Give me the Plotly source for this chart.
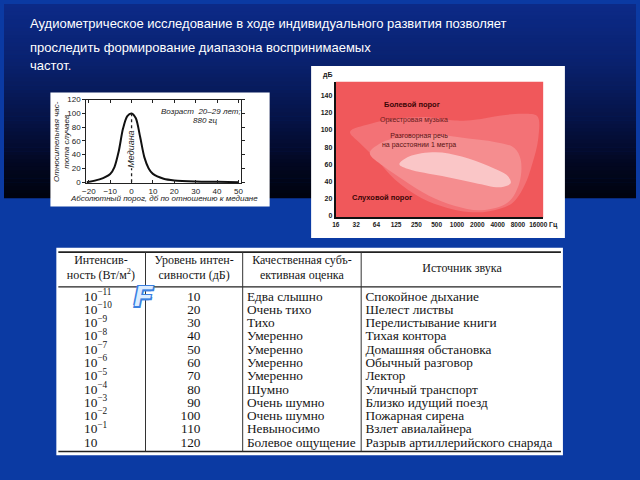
import plotly.graph_objects as go
import numpy as np

W, H = 640, 480

def fx(p):
    return p / W

def fy(p):
    return 1 - p / H

# ---------------- data ----------------
title_lines = [
    "Аудиометрическое исследование в ходе индивидуального развития позволяет",
    "проследить формирование диапазона воспринимаемых",
    "частот.",
]

# threshold distribution (left chart)
thr_x = [-21, -15, -10, -8, -6, -4, -2, 0, 2, 4, 6, 8, 10, 15, 20, 30, 40, 50]
thr_y = [0, 4, 12, 22, 45, 78, 96, 100, 93, 66, 36, 20, 12, 5, 2.5, 1, 0.5, 0]
thr_xticks = [-20, -10, 0, 10, 20, 30, 40, 50]
thr_xticktext = ["−20", "−10", "0", "10", "20", "30", "40", "50"]
thr_yticks = [0, 20, 40, 60, 80, 100, 120]

# hearing area (right chart)
freq_ticks = [16, 32, 64, 125, 250, 500, 1000, 2000, 4000, 8000, 16000]
db_ticks = [0, 20, 40, 60, 80, 100, 120, 140]
music_f = [26, 51, 125, 384, 940, 1840, 4500, 10000, 15500, 16000, 13000, 10000, 6500, 3000, 1500, 700, 300, 120, 60, 35]
music_db = [98, 107, 113, 115, 111, 112, 117, 119, 116, 90, 60, 35, 14, 5, 4, 9, 20, 42, 68, 86]
speech_f = [51, 80, 175, 537, 1470, 3600, 7070, 8800, 8400, 5650, 2300, 940, 384, 157, 80]
speech_db = [73, 86, 92, 94, 90, 86, 79, 65, 38, 15, 6, 11, 23, 42, 58]
core_f = [140, 195, 480, 1175, 2880, 5650, 6250, 4500, 1840, 600, 195]
core_db = [60, 69, 74, 69, 58, 46, 38, 33, 38, 46, 54]

# table
headers = ["Интенсив-<br>ность (Вт/м<sup>2</sup>)", "Уровень интен-<br>сивности (дБ)",
           "Качественная субъ-<br>ективная оценка", "Источник звука"]
intensity = ["10<sup>−11</sup>", "10<sup>−10</sup>", "10<sup>−9</sup>", "10<sup>−8</sup>",
             "10<sup>−7</sup>", "10<sup>−6</sup>", "10<sup>−5</sup>", "10<sup>−4</sup>",
             "10<sup>−3</sup>", "10<sup>−2</sup>", "10<sup>−1</sup>", "10"]
levels = [10, 20, 30, 40, 50, 60, 70, 80, 90, 100, 110, 120]
ratings = ["Едва слышно", "Очень тихо", "Тихо", "Умеренно", "Умеренно", "Умеренно",
           "Умеренно", "Шумно", "Очень шумно", "Очень шумно", "Невыносимо", "Болевое ощущение"]
sources = ["Спокойное дыхание", "Шелест листвы", "Перелистывание книги", "Тихая контора",
           "Домашняя обстановка", "Обычный разговор", "Лектор", "Уличный транспорт",
           "Близко идущий поезд", "Пожарная сирена", "Взлет авиалайнера",
           "Разрыв артиллерийского снаряда"]

# ---------------- figure ----------------
fig = go.Figure()
shapes = []
annotations = []

def lerp(c1, c2, t):
    return tuple(int(round(a + (b - a) * t)) for a, b in zip(c1, c2))

stops = [(0, (12, 42, 136)), (60, (9, 33, 110)), (120, (5, 18, 68)), (165, (2, 7, 32)), (197, (0, 3, 14))]
n = 50
for i in range(n):
    y0 = 197 * i / n
    y1 = 197 * (i + 1) / n
    ym = (y0 + y1) / 2
    for k in range(len(stops) - 1):
        if stops[k][0] <= ym <= stops[k + 1][0]:
            t = (ym - stops[k][0]) / (stops[k + 1][0] - stops[k][0])
            c = lerp(stops[k][1], stops[k + 1][1], t)
            break
    shapes.append(dict(type="rect", xref="paper", yref="paper", x0=0, x1=1,
                       y0=fy(y1 + 0.5), y1=fy(y0), fillcolor="rgb(%d,%d,%d)" % c,
                       line=dict(width=0), layer="below"))

# white boxes
for (x0, y0, x1, y1) in [(47, 90, 269, 206), (311, 63, 568, 238), (53, 248, 566, 459)]:
    shapes.append(dict(type="rect", xref="paper", yref="paper", x0=fx(x0), x1=fx(x1),
                       y0=fy(y1), y1=fy(y0), fillcolor="white", line=dict(width=0), layer="below"))

def ann(text, x, y, xref="paper", yref="paper", xa="center", ya="middle", **kw):
    d = dict(text=text, x=x, y=y, xref=xref, yref=yref, xanchor=xa, yanchor=ya, showarrow=False,
             borderpad=0)
    d.update(kw)
    annotations.append(d)

# title
for txt, yy in zip(title_lines, [20, 44, 63]):
    ann(txt, fx(25), fy(yy), xa="left",
        font=dict(family="Liberation Sans, Arial", size=13, color="white"))

# ---------- left chart ----------
fig.add_trace(go.Scatter(x=thr_x, y=thr_y, mode="lines", line=dict(color="#111", width=2, shape="spline", smoothing=0.8),
                         xaxis="x", yaxis="y", hoverinfo="skip", showlegend=False))
fig.add_trace(go.Scatter(x=[0, 0], y=[0, 100], mode="lines", line=dict(color="#222", width=1.3, dash="dot"),
                         xaxis="x", yaxis="y", hoverinfo="skip", showlegend=False))

tick_font = dict(family="Liberation Sans, Arial", size=8, color="#222")
fig.update_layout(
    xaxis=dict(domain=[fx(83.3), fx(240)], range=[-21.2, 51.2], tickvals=thr_xticks, ticktext=thr_xticktext,
               showline=True, linecolor="#222", linewidth=1, mirror="ticks", ticks="inside", ticklen=3,
               tickcolor="#222", showgrid=False, zeroline=False, tickfont=tick_font, anchor="y", tickangle=0),
    yaxis=dict(domain=[fy(182), fy(97.3)], range=[-1.2, 120], tickvals=thr_yticks,
               showline=True, linecolor="#222", linewidth=1, mirror="ticks", ticks="outside", ticklen=3,
               tickcolor="#222", showgrid=False, zeroline=False, tickfont=tick_font, anchor="x"),
)
it_font = dict(family="Liberation Sans, Arial", size=8, color="#222", style="italic")
ann("Относительная час-<br>тота случаев", fx(58), fy(140), textangle=-90,
    font=dict(family="Liberation Sans, Arial", size=8, color="#222", style="italic"))
ann("Абсолютный порог, дб по отношению к медиане", fx(162), fy(198),
    font=dict(family="Liberation Sans, Arial", size=8, color="#222", style="italic"))
ann("Возраст  20–29 лет;", 13.5, 103, xref="x", yref="y", xa="left", font=it_font)
ann("880 гц", 28.5, 89, xref="x", yref="y", xa="left", font=it_font)
ann("Медиана", 0, 48, xref="x", yref="y", textangle=-90, bgcolor="white",
    font=dict(family="Liberation Sans, Arial", size=9, color="#222", style="italic"))

# ---------- right chart ----------
shapes.append(dict(type="rect", xref="x2 domain", yref="y2 domain", x0=0, x1=1, y0=0, y1=1,
                   fillcolor="#f0585b", line=dict(width=0), layer="below"))
for xs, ys, col in [(music_f, music_db, "#f37276"), (speech_f, speech_db, "#f58d8f"), (core_f, core_db, "#fac6c7")]:
    fig.add_trace(go.Scatter(x=xs + xs[:1], y=ys + ys[:1], mode="lines", fill="toself", fillcolor=col,
                             line=dict(width=0, shape="spline", smoothing=1.0, color=col),
                             xaxis="x2", yaxis="y2", hoverinfo="skip", showlegend=False))

bold_font = dict(family="Liberation Sans, Arial", size=7, color="#1a1a1a", weight="bold")
fig.update_layout(
    xaxis2=dict(domain=[fx(336), fx(546)], type="log", range=[np.log10(16), 4.277], tickvals=freq_ticks,
                ticktext=[str(v) for v in freq_ticks], showline=True, linecolor="#111", linewidth=2,
                ticks="", showgrid=False, zeroline=False, tickfont=dict(bold_font, size=6.5), anchor="y2",
                tickangle=0),
    yaxis2=dict(domain=[fy(217), fy(79)], range=[-2.3, 156.5], tickvals=db_ticks, showline=True,
                linecolor="#111", linewidth=2, ticks="", showgrid=False, zeroline=False,
                tickfont=bold_font, anchor="x2"),
)
ann("дБ", fx(328), fy(72), font=bold_font)
ann("Гц", fx(556), fy(225), font=bold_font)
ann("Болевой порог", np.log10(214), 130, xref="x2", yref="y2",
    font=dict(family="Liberation Sans, Arial", size=7.5, color="#3a0606", weight="bold"))
ann("Оркестровая музыка", np.log10(229), 111.5, xref="x2", yref="y2",
    font=dict(family="Liberation Sans, Arial", size=7, color="#6a1c1c"))
ann("Разговорная речь<br>на расстоянии 1 метра", np.log10(270), 88, xref="x2", yref="y2",
    font=dict(family="Liberation Sans, Arial", size=7, color="#5a1414"))
ann("Слуховой порог", np.log10(78), 21, xref="x2", yref="y2",
    font=dict(family="Liberation Sans, Arial", size=7.5, color="#3a0606", weight="bold"))

# ---------- table ----------
col_bounds = [0, 90.3, 188.7, 308.7, 513]
rows = list(range(len(levels)))
tfont = dict(family="Liberation Serif, Times New Roman", size=13.3, color="#151515")
fig.add_trace(go.Scatter(x=[28] * len(rows), y=rows, text=intensity, mode="text", textposition="middle right",
                         textfont=tfont, xaxis="x3", yaxis="y3", hoverinfo="skip", showlegend=False))
fig.add_trace(go.Scatter(x=[146] * len(rows), y=rows, text=[str(v) for v in levels], mode="text",
                         textposition="middle left", textfont=tfont, xaxis="x3", yaxis="y3",
                         hoverinfo="skip", showlegend=False))
fig.add_trace(go.Scatter(x=[193] * len(rows), y=rows, text=ratings, mode="text", textposition="middle right",
                         textfont=tfont, xaxis="x3", yaxis="y3", hoverinfo="skip", showlegend=False))
fig.add_trace(go.Scatter(x=[313] * len(rows), y=rows, text=sources, mode="text", textposition="middle right",
                         textfont=tfont, xaxis="x3", yaxis="y3", hoverinfo="skip", showlegend=False))
hx = [(col_bounds[i] + col_bounds[i + 1]) / 2 for i in range(4)]
fig.add_trace(go.Scatter(x=hx, y=[-2.17] * 4, text=headers, mode="text", textposition="middle center",
                         textfont=dict(family="Liberation Serif, Times New Roman", size=12, color="#151515"),
                         xaxis="x3", yaxis="y3", hoverinfo="skip", showlegend=False))
fig.update_layout(
    xaxis3=dict(domain=[fx(53), fx(566)], range=[0, 513], visible=False, anchor="y3", fixedrange=True),
    yaxis3=dict(domain=[fy(459), fy(248)], range=[11.91, -3.73], visible=False, anchor="x3", fixedrange=True),
)
for yv, lw in [(-3.41, 1.8), (-0.79, 1.3), (11.62, 1.3)]:
    shapes.append(dict(type="line", xref="x3", yref="y3", x0=2, x1=511, y0=yv, y1=yv,
                       line=dict(color="#222", width=lw)))
for xb in col_bounds[1:-1]:
    shapes.append(dict(type="line", xref="x3", yref="y3", x0=xb, x1=xb, y0=-3.41, y1=11.62,
                       line=dict(color="#333", width=1)))

ann("<b><i>F</i></b>", fx(141), fy(296),
    font=dict(family="Liberation Sans, Arial", size=30, color="#dcecff",
              shadow="1.5px 1.5px 0 #3b7fe0, -1.5px -1.5px 0 #3b7fe0, 1.5px -1.5px 0 #3b7fe0, -1.5px 1.5px 0 #3b7fe0"))

fig.update_layout(
    width=W, height=H, margin=dict(l=0, r=0, t=0, b=0),
    paper_bgcolor="#0b3aa3", plot_bgcolor="rgba(0,0,0,0)",
    shapes=shapes, annotations=annotations, showlegend=False,
)
fig.write_html("out.html", config=dict(displayModeBar=False))
